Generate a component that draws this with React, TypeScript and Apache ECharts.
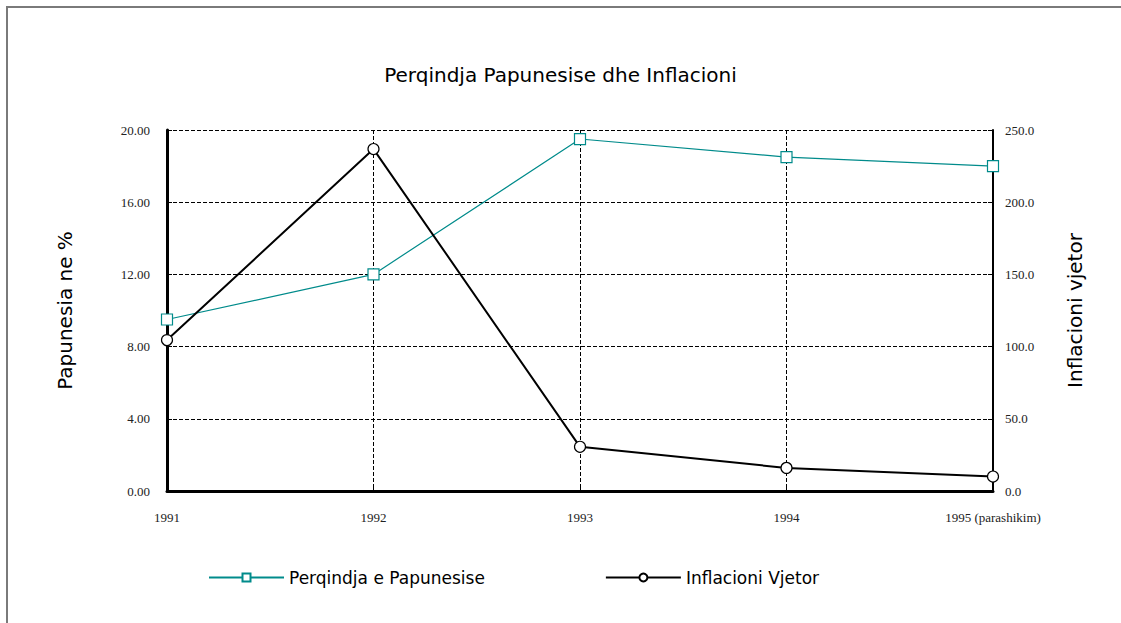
import React, { useEffect, useRef } from "react";
import * as echarts from "echarts";

const categories = ["1991", "1992", "1993", "1994", "1995 (parashikim)"];
const unemployment = [9.5, 12.0, 19.5, 18.5, 18.0];
const inflation = [104.5, 236.8, 30.6, 16.0, 10.0];
const leftTicks = { min: 0, max: 20, interval: 4 };
const rightTicks = { min: 0, max: 250, interval: 50 };

const serif = "'Liberation Serif', 'DejaVu Serif', serif";
const sans = "'DejaVu Sans', 'Noto Sans', sans-serif";

export default function App() {
  const ref = useRef<HTMLDivElement>(null);
  useEffect(() => {
    if (!ref.current) return;
    const chart = echarts.init(ref.current, undefined, { renderer: "svg" });
    const grid = { left: 167, right: 128, top: 130, bottom: 132 };
    chart.setOption({
      animation: false,
      backgroundColor: "#ffffff",
      title: {
        text: "Perqindja Papunesise dhe Inflacioni",
        left: "center",
        top: 60,
        textStyle: { fontFamily: sans, fontSize: 20, fontWeight: "normal", color: "#000" },
      },
      graphic: [
        {
          type: "rect",
          shape: { x: 7, y: 7, width: 1300, height: 800 },
          style: { fill: "none", stroke: "#7a7a7a", lineWidth: 2 },
          silent: true,
        },
      ],
      legend: {
        bottom: 32,
        left: 203,
        itemWidth: 75,
        itemHeight: 10,
        itemGap: 120,
        textStyle: { fontFamily: sans, fontSize: 17, color: "#000" },
        data: ["Perqindja e Papunesise", "Inflacioni Vjetor"],
      },
      grid,
      xAxis: {
        type: "category",
        data: categories,
        boundaryGap: false,
        axisLine: { lineStyle: { color: "#000", width: 3 } },
        axisTick: { inside: true, length: 5, lineStyle: { color: "#000", width: 1 } },
        axisLabel: { margin: 20, fontFamily: serif, fontSize: 13, color: "#222" },
        splitLine: { show: true, lineStyle: { color: "#000", type: "dashed", width: 1 } },
      },
      yAxis: [
        {
          type: "value",
          ...leftTicks,
          name: "Papunesia ne %",
          nameLocation: "middle",
          nameRotate: 90,
          nameGap: 92,
          nameTextStyle: { fontFamily: sans, fontSize: 20, color: "#000" },
          axisLine: { show: true, lineStyle: { color: "#000", width: 3 } },
          axisTick: { show: true, inside: true, length: 5, lineStyle: { color: "#000" } },
          axisLabel: {
            margin: 17,
            fontFamily: serif,
            fontSize: 13,
            color: "#222",
            formatter: (v: number) => v.toFixed(2),
          },
          splitLine: { show: true, lineStyle: { color: "#000", type: "dashed", width: 1 } },
        },
        {
          type: "value",
          ...rightTicks,
          position: "right",
          name: "Inflacioni vjetor",
          nameLocation: "middle",
          nameRotate: 90,
          nameGap: 72,
          nameTextStyle: { fontFamily: sans, fontSize: 20, color: "#000" },
          axisLine: { show: true, lineStyle: { color: "#000", width: 2 } },
          axisTick: { show: true, inside: true, length: 5, lineStyle: { color: "#000" } },
          axisLabel: {
            margin: 12,
            fontFamily: serif,
            fontSize: 13,
            color: "#222",
            formatter: (v: number) => v.toFixed(1),
          },
          splitLine: { show: false },
        },
      ],
      series: [
        {
          name: "Perqindja e Papunesise",
          type: "line",
          yAxisIndex: 0,
          data: unemployment,
          symbol: "rect",
          symbolSize: 11,
          showAllSymbol: true,
          lineStyle: { color: "#008b8b", width: 1.2 },
          itemStyle: { color: "#ffffff", borderColor: "#008b8b", borderWidth: 1.2 },
          z: 3,
        },
        {
          name: "Inflacioni Vjetor",
          type: "line",
          yAxisIndex: 1,
          data: inflation,
          symbol: "circle",
          symbolSize: 11,
          showAllSymbol: true,
          lineStyle: { color: "#000", width: 2 },
          itemStyle: { color: "#ffffff", borderColor: "#000", borderWidth: 1.2 },
          z: 4,
        },
      ],
    });
    return () => chart.dispose();
  }, []);
  return (
    <div
      ref={ref}
      style={{ position: "absolute", left: 0, top: 0, width: 1121, height: 623, background: "#fff" }}
    />
  );
}
